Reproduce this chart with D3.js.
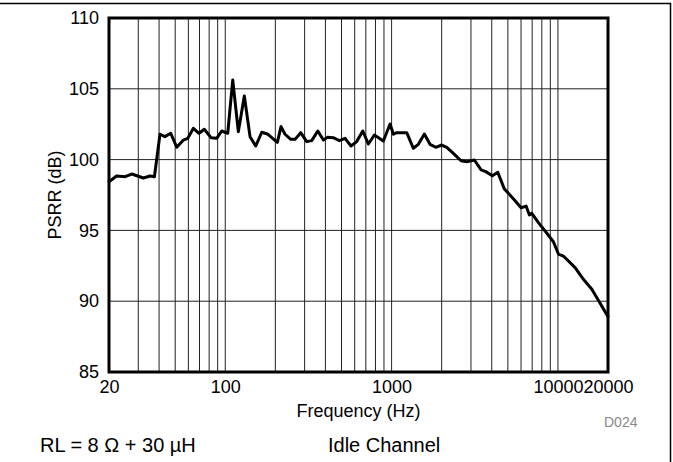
<!DOCTYPE html>
<html>
<head>
<meta charset="utf-8">
<script src="https://cdn.jsdelivr.net/npm/d3@7"></script>
<style>
  html, body { margin: 0; padding: 0; background: #fff; }
  svg { display: block; font-family: "Liberation Sans", Arial, Helvetica, sans-serif; }
</style>
</head>
<body>
<svg id="chart" width="673" height="462"></svg>
<script>
// PSRR vs frequency, idle channel
const freqHz = [20, 22.2, 25, 27.4, 32.2, 35.3, 37.5, 40.5, 43.4, 47, 51.1, 56, 59.5, 64.3, 69.5, 74.8, 82.1,
  88.8, 95.2, 103.5, 110.9, 119.8, 130.2, 140.9, 152.5, 165.7, 179.1, 205.6, 216.4, 228.8, 247.6, 262.8, 284.2,
  309, 331, 360, 389, 411, 446, 485, 525, 570, 617, 671, 725, 788, 892, 979, 1025, 1074, 1233, 1351, 1448,
  1574, 1703, 1843, 2003, 2146, 2352, 2616, 2830, 3146, 3452, 3684, 4036, 4350, 4764, 5036, 5526, 6008, 6436,
  6738, 6966, 7632, 8374, 9392, 10068, 10786, 12684, 14232, 15986, 17934, 20000];
const psrrDb = [98.44, 98.84, 98.79, 98.98, 98.70, 98.84, 98.79, 101.79, 101.62, 101.86, 100.87, 101.38, 101.50,
  102.21, 101.86, 102.14, 101.55, 101.50, 102.02, 101.86, 105.62, 101.97, 104.49, 101.62, 100.96, 101.93, 101.81,
  101.22, 102.33, 101.79, 101.43, 101.43, 101.90, 101.27, 101.34, 102.02, 101.38, 101.57, 101.55, 101.34, 101.50,
  100.96, 101.27, 102.02, 101.10, 101.74, 101.31, 102.51, 101.79, 101.90, 101.90, 100.80, 101.08, 101.81, 101.08,
  100.87, 101.03, 100.87, 100.44, 99.92, 99.85, 99.97, 99.27, 99.15, 98.86, 99.10, 97.92, 97.62, 97.10, 96.60,
  96.72, 96.09, 96.21, 95.55, 94.96, 94.20, 93.33, 93.19, 92.37, 91.55, 90.84, 89.85, 88.90];

const xTickLabels = [20, 100, 1000, 10000, 20000];
const yTickLabels = [85, 90, 95, 100, 105, 110];
const xGrid = [30, 40, 50, 60, 70, 80, 90, 100, 200, 300, 400, 500, 600, 700, 800, 900, 1000,
  2000, 3000, 4000, 5000, 6000, 7000, 8000, 9000, 10000];
const yGrid = [90, 95, 100, 105];

const svg = d3.select("#chart");
const m = { left: 109, right: 608, top: 18, bottom: 372 };

const x = d3.scaleLog().domain([20, 20000]).range([m.left, m.right]);
const y = d3.scaleLinear().domain([85, 110]).range([m.bottom, m.top]);

// outer figure frame (top and right edges)
svg.append("line").attr("x1", 0).attr("x2", 671).attr("y1", 3.5).attr("y2", 3.5)
  .attr("stroke", "#000").attr("stroke-width", 1.5);
svg.append("line").attr("x1", 670.5).attr("x2", 670.5).attr("y1", 3).attr("y2", 462)
  .attr("stroke", "#000").attr("stroke-width", 1.5);

// grid
const grid = svg.append("g").attr("stroke", "#222").attr("stroke-width", 1);
grid.selectAll("line.v").data(xGrid).join("line")
  .attr("x1", d => x(d)).attr("x2", d => x(d)).attr("y1", m.top).attr("y2", m.bottom);
grid.selectAll("line.h").data(yGrid).join("line")
  .attr("x1", m.left).attr("x2", m.right).attr("y1", d => y(d)).attr("y2", d => y(d));

// curve
const line = d3.line().x(d => x(d[0])).y(d => y(d[1]));
svg.append("path")
  .datum(freqHz.map((f, i) => [f, psrrDb[i]]))
  .attr("d", line)
  .attr("fill", "none").attr("stroke", "#000").attr("stroke-width", 3)
  .attr("stroke-linejoin", "round").attr("stroke-linecap", "round");

// plot frame
svg.append("rect").attr("x", m.left).attr("y", m.top)
  .attr("width", m.right - m.left).attr("height", m.bottom - m.top)
  .attr("fill", "none").attr("stroke", "#000").attr("stroke-width", 3);

// axes labels
const xAxis = d3.axisBottom(x).tickValues(xTickLabels).tickFormat(d3.format("d")).tickSize(0).tickPadding(8);
svg.append("g").attr("transform", `translate(0,${m.bottom})`).call(xAxis)
  .call(g => g.select(".domain").remove())
  .selectAll("text").attr("font-size", 18).attr("fill", "#000")
  .attr("font-family", "'Liberation Sans', Arial, sans-serif");

const yAxis = d3.axisLeft(y).tickValues(yTickLabels).tickFormat(d3.format("d")).tickSize(0).tickPadding(10);
svg.append("g").attr("transform", `translate(${m.left},0)`).call(yAxis)
  .call(g => g.select(".domain").remove())
  .selectAll("text").attr("font-size", 18).attr("fill", "#000")
  .attr("font-family", "'Liberation Sans', Arial, sans-serif");

svg.append("text").attr("x", (m.left + m.right) / 2).attr("y", 417)
  .attr("text-anchor", "middle").attr("font-size", 18).text("Frequency (Hz)");

svg.append("text").attr("transform", `translate(61,${(m.top + m.bottom) / 2}) rotate(-90)`)
  .attr("text-anchor", "middle").attr("font-size", 18).text("PSRR (dB)");

svg.append("text").attr("x", 604).attr("y", 427).attr("font-size", 14)
  .attr("fill", "#888").text("D024");

svg.append("text").attr("x", 40).attr("y", 452).attr("font-size", 20).text("RL = 8 \u03A9 + 30 \u00B5H");
svg.append("text").attr("x", 328).attr("y", 452).attr("font-size", 20).text("Idle Channel");
</script>
</body>
</html>
